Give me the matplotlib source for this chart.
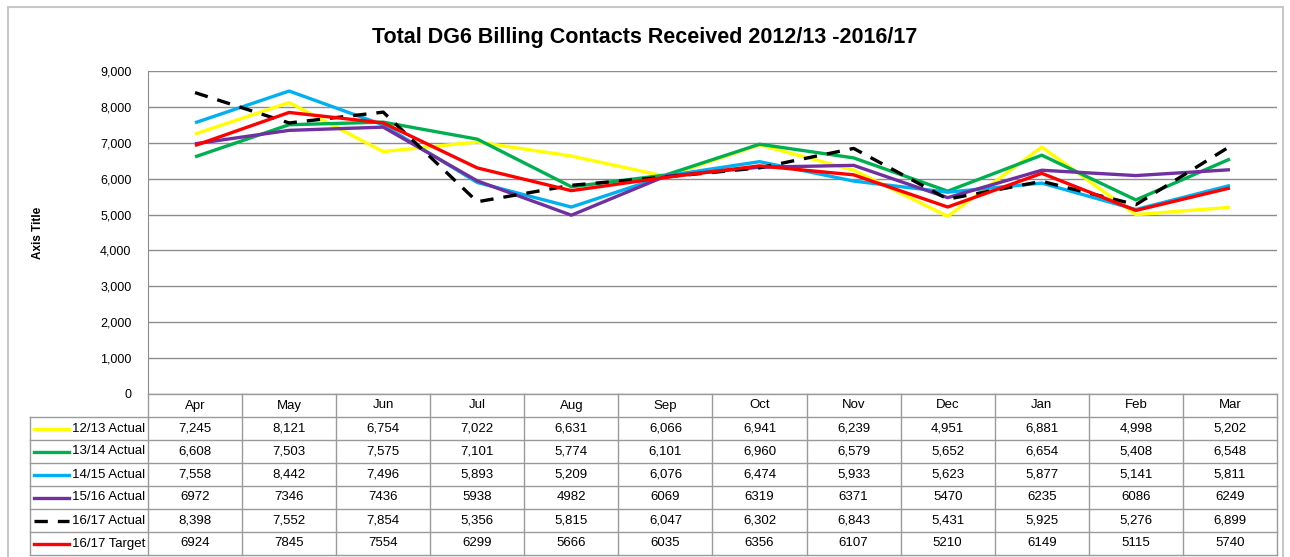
import matplotlib
matplotlib.use("Agg")
import matplotlib.pyplot as plt
from matplotlib.patches import Rectangle
import numpy as np

plt.rcParams["font.family"] = ["Liberation Sans Narrow", "Liberation Sans", "DejaVu Sans"]

MONTHS = ["Apr", "May", "Jun", "Jul", "Aug", "Sep", "Oct", "Nov", "Dec", "Jan", "Feb", "Mar"]

a1213 = [7245, 8121, 6754, 7022, 6631, 6066, 6941, 6239, 4951, 6881, 4998, 5202]
a1314 = [6608, 7503, 7575, 7101, 5774, 6101, 6960, 6579, 5652, 6654, 5408, 6548]
a1415 = [7558, 8442, 7496, 5893, 5209, 6076, 6474, 5933, 5623, 5877, 5141, 5811]
a1516 = [6972, 7346, 7436, 5938, 4982, 6069, 6319, 6371, 5470, 6235, 6086, 6249]
a1617 = [8398, 7552, 7854, 5356, 5815, 6047, 6302, 6843, 5431, 5925, 5276, 6899]
t1617 = [6924, 7845, 7554, 6299, 5666, 6035, 6356, 6107, 5210, 6149, 5115, 5740]

# label, values, colour, linestyle, thousands separator in table
SERIES = [
    ("12/13 Actual", a1213, "#FFFF00", "-", True),
    ("13/14 Actual", a1314, "#00B050", "-", True),
    ("14/15 Actual", a1415, "#00B0F0", "-", True),
    ("15/16 Actual", a1516, "#7030A0", "-", False),
    ("16/17 Actual", a1617, "#000000", (0, (4, 3)), True),
    ("16/17 Target", t1617, "#FF0000", "-", False),
]

W, H = 1290, 557
fig = plt.figure(figsize=(W / 100, H / 100), dpi=100)
fig.patches.append(Rectangle((8 / W, -0.01), 1275 / W, 1 - 7 / H + 0.01, transform=fig.transFigure,
                             fill=False, edgecolor="#c8c8c8", linewidth=1.5))

# ── Plot area ────────────────────────────────────────────────────────────────
left, right = 148 / W, 1277 / W
ax = fig.add_axes([left, (H - 394) / H, right - left, (394 - 71) / H])
x = np.arange(len(MONTHS))
for label, vals, col, ls, _ in SERIES:
    ax.plot(x, vals, color=col, linestyle=ls, linewidth=2.4, solid_capstyle="butt")

ax.set_xlim(-0.5, 11.5)
ax.set_ylim(0, 9000)
ax.set_yticks(range(0, 9001, 1000))
ax.set_yticklabels([f"{v:,}" for v in range(0, 9001, 1000)], fontsize=9)
ax.set_xticks([])
ax.yaxis.grid(True, color="#8c8c8c", linewidth=1)
ax.set_axisbelow(True)
ax.tick_params(axis="y", length=0, pad=12)
for s in ["top", "right", "bottom"]:
    ax.spines[s].set_visible(False)
ax.spines["left"].set_color("#8c8c8c")
ax.set_ylabel("Axis Title", fontsize=8.5, fontweight="bold", labelpad=40)

fig.text(645 / W, 1 - 38 / H, "Total DG6 Billing Contacts Received 2012/13 -2016/17",
         ha="center", va="center", fontsize=15.5, fontweight="bold")

# ── Data table ───────────────────────────────────────────────────────────────
tab = fig.add_axes([left, (H - 555) / H, right - left, 161 / H])
tab.set_xlim(-0.5, 11.5)
tab.set_ylim(7, 0)
tab.axis("off")
leg_left = -0.5 - (148 - 30) / ((1277 - 148) / 12)
gc = "#9a9a9a"
for r in range(8):
    x0 = -0.5 if r == 0 else leg_left
    tab.plot([x0, 11.5], [r, r], color=gc, linewidth=1, clip_on=False)
for c in range(13):
    tab.plot([c - 0.5, c - 0.5], [0, 7], color=gc, linewidth=1, clip_on=False)
tab.plot([leg_left, leg_left], [1, 7], color=gc, linewidth=1, clip_on=False)

for i, m in enumerate(MONTHS):
    tab.text(i, 0.5, m, ha="center", va="center", fontsize=9.5)
for r, (label, vals, col, ls, comma) in enumerate(SERIES, start=1):
    tab.plot([leg_left + 0.04, leg_left + 0.41], [r + 0.5, r + 0.5], color=col,
             linestyle=ls, linewidth=2.4, clip_on=False)
    tab.text(-0.53, r + 0.5, label, ha="right", va="center", fontsize=9.5, clip_on=False)
    for i, v in enumerate(vals):
        tab.text(i, r + 0.5, f"{v:,}" if comma else str(v), ha="center", va="center",
                 fontsize=9.5)

plt.savefig("out.png", dpi=100)
